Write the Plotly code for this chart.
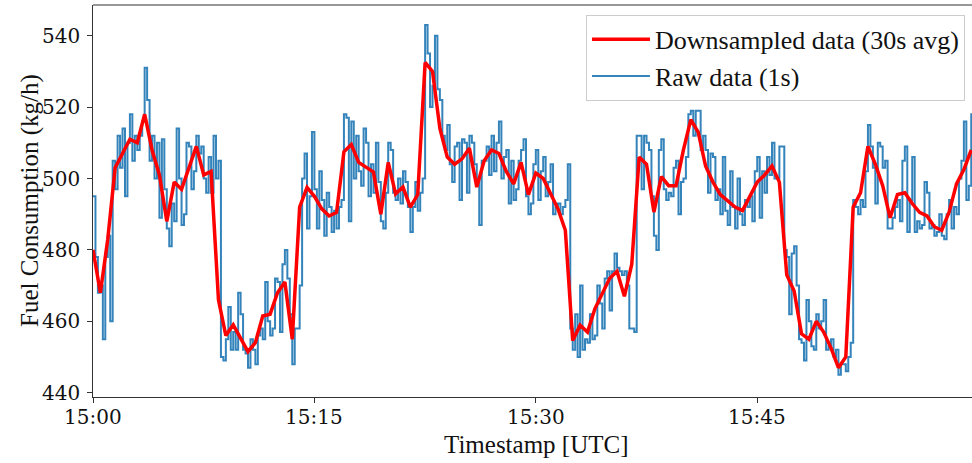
import pandas as pd
import plotly.graph_objects as go

# 30 s averaged fuel consumption (kg/h), one value per 30 s starting 15:00:00
avg_values = [
    480, 468, 483, 503, 507, 511, 510, 518, 508, 501,
    488, 499, 497, 503, 509, 501, 502, 466, 456, 459,
    455, 451.5, 454, 461.5, 462, 468, 471, 455, 492, 497.5,
    495, 491.5, 489.5, 490.5, 507.5, 509.5, 504.5, 503, 501.8, 490,
    504.5, 495.7, 497.6, 492, 495.5, 532.5, 530, 514, 506, 504,
    505.5, 508.5, 497.6, 505, 508, 507, 502, 498.5, 504.5, 495.5,
    501.5, 500, 495.5, 491.5, 485.5, 454.6, 458.9, 457, 463.5, 468,
    472, 474, 467, 476, 506, 504, 490.6, 500.5, 498, 498,
    508, 516.5, 513, 503.5, 499, 495.5, 493.6, 492, 491, 495,
    499, 501, 503.5, 499, 473, 468.5, 456.5, 455, 460, 457,
    452.5, 447, 450, 492, 496, 509, 504, 498, 489, 495.5,
    496, 493, 490.5, 489.5, 486.5, 485.5, 490.6, 498.5, 502.5, 508,
]

raw_values = [
    495, 478, 468, 470, 455, 478, 484, 460, 505, 497, 512, 503,
    514, 495, 510, 518, 505, 512, 508, 512, 516, 531, 522, 505,
    512, 500, 510, 489, 511, 497, 486, 481, 493, 488, 514, 500,
    487, 490, 510, 509, 497, 502, 512, 507, 509, 500, 496, 506,
    496, 512, 500, 505, 450, 449, 455, 464, 452, 457, 452, 468,
    462, 452, 451, 447, 455, 452, 448, 456, 458, 455, 471, 460,
    456, 458, 472, 471, 457, 476, 480, 472, 462, 448, 458, 458,
    470, 500, 507, 486, 495, 513, 497, 486, 502, 494, 484, 496,
    492, 485, 491, 486, 492, 494, 518, 517, 488, 516, 500, 512,
    502, 498, 514, 510, 495, 504, 496, 510, 499, 488, 486, 496,
    510, 508, 496, 494, 500, 493, 502, 499, 492, 485, 492, 499,
    491, 496, 500, 543, 535, 520, 526, 540, 525, 522, 512, 508,
    515, 504, 499, 509, 510, 494, 511, 510, 496, 512, 510, 504,
    500, 487, 505, 505, 509, 501, 512, 502, 510, 516, 500, 506,
    508, 493, 505, 494, 497, 505, 508, 511, 495, 490, 493, 504,
    508, 494, 502, 506, 495, 499, 504, 490, 492, 493, 490, 492,
    494, 504, 458, 452, 462, 450, 470, 452, 455, 454, 462, 455,
    456, 470, 465, 458, 472, 474, 463, 474, 479, 475, 474, 473,
    474, 470, 458, 458, 457, 512, 512, 497, 512, 510, 508, 495,
    484, 480, 508, 511, 497, 494, 496, 495, 503, 505, 490, 499,
    500, 506, 518, 519, 512, 519, 519, 508, 512, 508, 496, 507,
    506, 494, 497, 490, 506, 491, 487, 502, 492, 486, 500, 490,
    487, 494, 492, 495, 488, 502, 506, 489, 502, 496, 506, 501,
    510, 500, 500, 509, 509, 480, 478, 462, 479, 481, 470, 455,
    454, 449, 466, 460, 453, 452, 462, 458, 460, 466, 452, 453,
    455, 450, 452, 445, 448, 448, 446, 450, 454, 494, 492, 490,
    494, 492, 502, 515, 509, 503, 493, 510, 509, 503, 505, 486,
    486, 489, 492, 494, 488, 505, 509, 485, 494, 506, 485, 488,
    486, 487, 499, 496, 486, 487, 484, 485, 490, 484, 483, 490,
    494, 486, 492, 490, 500, 505, 516, 494, 498, 518, 505, 501,
]

# Tick labels
x_tick_times = ["2023-01-01 15:00:00", "2023-01-01 15:15:00",
                "2023-01-01 15:30:00", "2023-01-01 15:45:00"]
x_tick_labels = ["15:00", "15:15", "15:30", "15:45"]
y_tick_values = [440, 460, 480, 500, 520, 540]
y_tick_labels = ["440", "460", "480", "500", "520", "540"]

start = "2023-01-01 15:00:00"
avg_times = pd.date_range(start, periods=len(avg_values), freq="30s")
raw_times = pd.date_range(start, periods=len(raw_values), freq="10s")

FONT = "Liberation Serif"
TICKFONT = "DejaVu Serif"
TXT = "#111"

fig = go.Figure()
fig.add_trace(go.Scatter(
    x=raw_times, y=raw_values, mode="lines", name="Raw data (1s)",
    line=dict(color="#1f77b4", width=2, shape="hv"), opacity=0.9,
    legendrank=2,
))
fig.add_trace(go.Scatter(
    x=avg_times, y=avg_values, mode="lines", name="Downsampled data (30s avg)",
    line=dict(color="#ff0000", width=3.5),
    legendrank=1,
))

annotations = []
for t, lab in zip(x_tick_times, x_tick_labels):
    annotations.append(dict(x=t, y=0, xref="x", yref="paper", text=lab, showarrow=False,
                            xanchor="center", yanchor="middle", yshift=-20,
                            font=dict(family=TICKFONT, size=20, color=TXT)))
for v, lab in zip(y_tick_values, y_tick_labels):
    annotations.append(dict(x=0, y=v, xref="paper", yref="y", text=lab, showarrow=False,
                            xanchor="right", yanchor="middle", xshift=-11,
                            font=dict(family=TICKFONT, size=20, color=TXT)))
annotations.append(dict(x=0.5046, y=0, xref="paper", yref="paper", text="Timestamp [UTC]",
                        showarrow=False, xanchor="center", yanchor="middle", yshift=-47,
                        font=dict(family=FONT, size=25, color=TXT)))
annotations.append(dict(x=0, y=0.5, xref="paper", yref="paper", text="Fuel Consumption (kg/h)",
                        showarrow=False, xanchor="center", yanchor="middle", xshift=-63,
                        textangle=-90, font=dict(family=FONT, size=25, color=TXT)))

fig.update_layout(
    width=972, height=463,
    margin=dict(l=93, r=0, t=5, b=66),
    paper_bgcolor="white", plot_bgcolor="white",
    font=dict(family=FONT, size=24, color=TXT),
    legend=dict(
        x=0.992, y=0.975, xanchor="right", yanchor="top",
        bgcolor="rgba(255,255,255,0.85)", bordercolor="#cccccc", borderwidth=1,
        font=dict(family=FONT, size=26, color=TXT),
        tracegroupgap=0, itemwidth=58,
    ),
    showlegend=True,
    annotations=annotations,
    shapes=[dict(type="line", xref="paper", yref="paper", x0=0, x1=1, y0=1, y1=1,
                 line=dict(color="#333", width=1.2))],
)
fig.update_xaxes(
    range=["2023-01-01 15:00:00", "2023-01-01 15:59:33"],
    tickvals=x_tick_times, showticklabels=False,
    showgrid=False, zeroline=False, showline=True, linecolor="#333", linewidth=1.2,
    ticks="outside", ticklen=5, tickcolor="#333",
)
fig.update_yaxes(
    range=[438.8, 548.6], tickvals=y_tick_values, showticklabels=False,
    showgrid=False, zeroline=False, showline=True, linecolor="#333", linewidth=1.2,
    ticks="outside", ticklen=5, tickcolor="#333",
)

fig.write_html("out.html")
